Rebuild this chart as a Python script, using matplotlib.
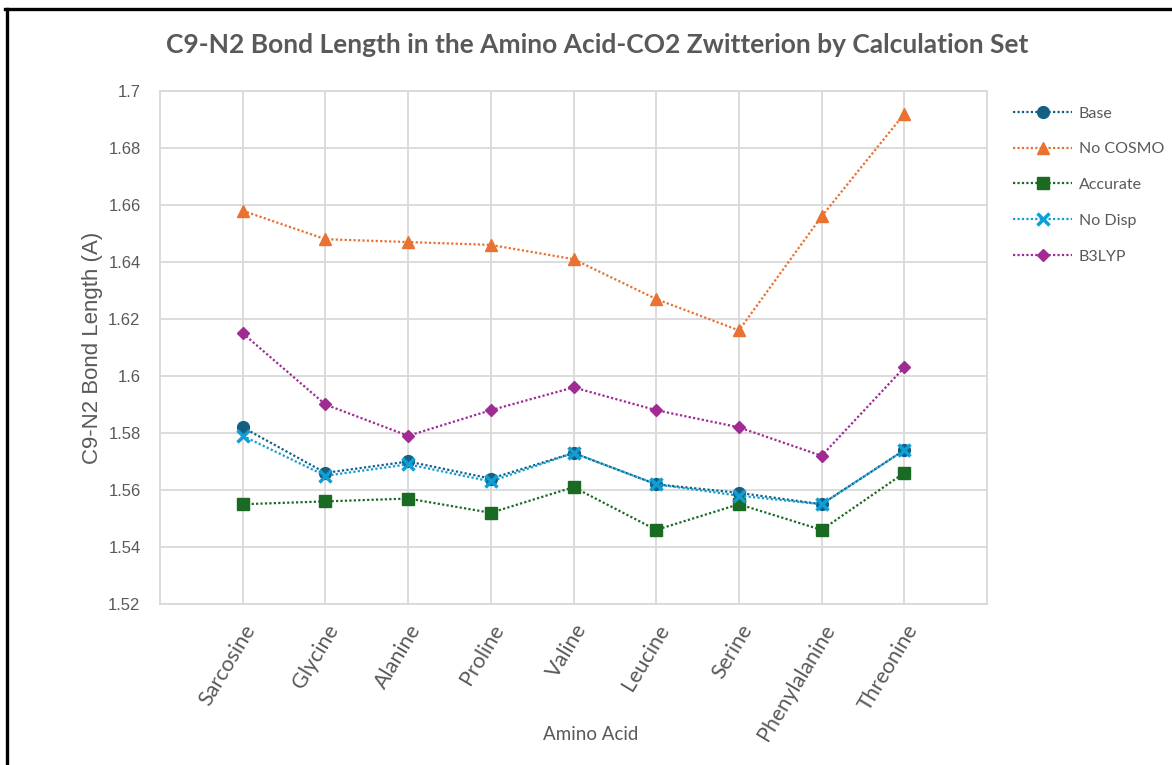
import matplotlib.pyplot as plt
from matplotlib.lines import Line2D

amino_acids = ['Sarcosine', 'Glycine', 'Alanine', 'Proline', 'Valine',
               'Leucine', 'Serine', 'Phenylalanine', 'Threonine']
base = [1.582, 1.566, 1.570, 1.564, 1.573, 1.562, 1.559, 1.555, 1.574]
no_cosmo = [1.658, 1.648, 1.647, 1.646, 1.641, 1.627, 1.616, 1.656, 1.692]
accurate = [1.555, 1.556, 1.557, 1.552, 1.561, 1.546, 1.555, 1.546, 1.566]
no_disp = [1.579, 1.565, 1.569, 1.563, 1.573, 1.562, 1.558, 1.555, 1.574]
b3lyp = [1.615, 1.590, 1.579, 1.588, 1.596, 1.588, 1.582, 1.572, 1.603]
y_ticks = [1.52, 1.54, 1.56, 1.58, 1.6, 1.62, 1.64, 1.66, 1.68, 1.7]

txt = '#595959'
grid = '#d9d9d9'

fig = plt.figure(figsize=(11.72, 7.65), dpi=100)
ax = fig.add_axes([160 / 1172, 161 / 765, 827 / 1172, 513 / 765])

x = list(range(len(amino_acids)))
dot = (0, (1, 1))
series = [
    ('Base', base, '#156082', 'o', 8.5, {}),
    ('No COSMO', no_cosmo, '#E97132', '^', 9, {}),
    ('Accurate', accurate, '#196B24', 's', 8.5, {}),
    ('No Disp', no_disp, '#0F9ED5', 'x', 8, {'markeredgewidth': 2.5}),
    ('B3LYP', b3lyp, '#A02B93', 'D', 6.5, {}),
]
for name, vals, col, mk, ms, kw in series:
    ax.plot(x, vals, linestyle=dot, linewidth=1.6, color=col, marker=mk,
            markersize=ms, markerfacecolor=col, markeredgecolor=col,
            label=name, zorder=3, **kw)

ax.set_xlim(-1, len(amino_acids))
ax.set_ylim(1.52, 1.7)
ax.set_yticks(y_ticks)
ax.set_yticklabels([('%g' % v) for v in y_ticks], family='Liberation Sans',
                   fontsize=12, color=txt)
ax.set_xticks(x)
ax.set_xticklabels(amino_acids, rotation=59, ha='right', rotation_mode='anchor',
                   family='Lato', fontsize=15.5, color=txt)
ax.tick_params(axis='both', length=0)
ax.tick_params(axis='y', pad=14)
ax.tick_params(axis='x', pad=12)
ax.grid(True, color=grid, linewidth=1.3)
ax.set_axisbelow(True)
for s in ax.spines.values():
    s.set_color(grid)
    s.set_linewidth(1.3)

ax.set_ylabel('C9-N2 Bond Length (A)', family='Liberation Sans', fontsize=16,
              color=txt, labelpad=4)
fig.text(591 / 1172, 1 - 735 / 765, 'Amino Acid', family='Lato', fontsize=13.5,
         color=txt, ha='center', va='center')
fig.text(597 / 1172, 1 - 45 / 765,
         'C9-N2 Bond Length in the Amino Acid-CO2 Zwitterion by Calculation Set',
         family='Lato', fontweight='bold', fontsize=19, color=txt,
         ha='center', va='center')

leg = fig.legend(loc='upper left', bbox_to_anchor=(999 / 1172, 1 - 92 / 765),
                 frameon=False, prop={'family': 'Lato', 'size': 11.5},
                 labelspacing=1.35, handlelength=3.7, handletextpad=0.4)
for t in leg.get_texts():
    t.set_color(txt)

# black frame at the image edge
fig.add_artist(Line2D([6.5 / 1172, 6.5 / 1172], [0, 1 - 9 / 765],
                      transform=fig.transFigure, color='black', linewidth=2.4))
fig.add_artist(Line2D([5 / 1172, 1], [1 - 9 / 765, 1 - 9 / 765],
                      transform=fig.transFigure, color='black', linewidth=2.4))

plt.savefig('out.png', dpi=100)
